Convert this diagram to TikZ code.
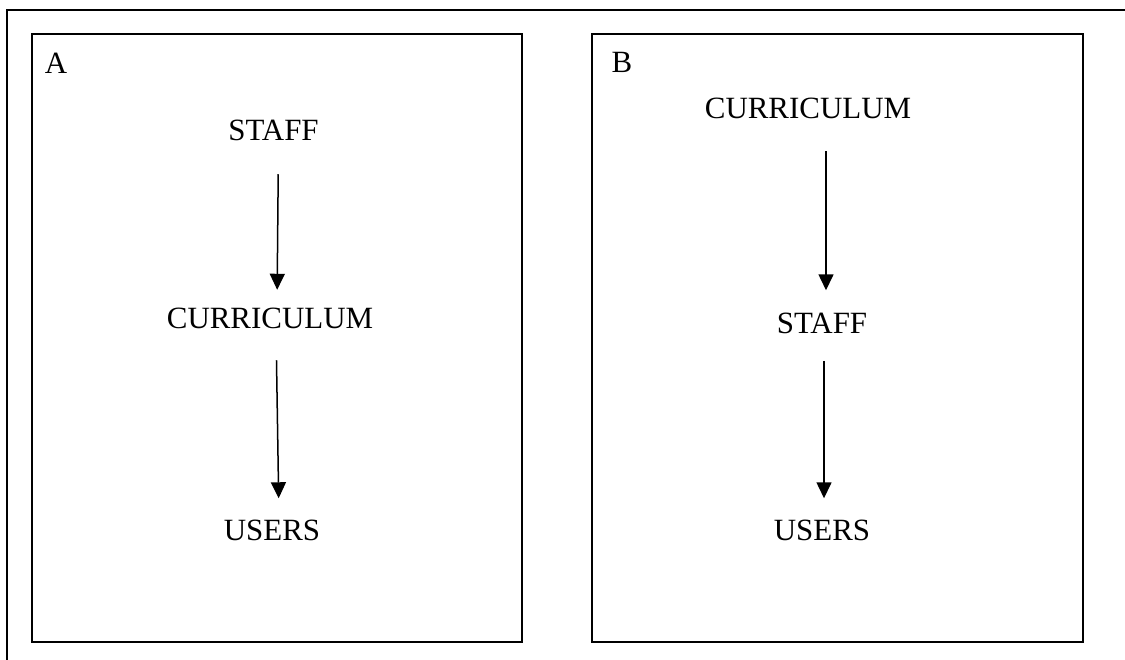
\documentclass[tikz,border=0pt]{standalone}
\usepackage{fontspec}
\setmainfont{Liberation Serif}
\usetikzlibrary{arrows.meta}

\begin{document}
\begin{tikzpicture}[lbl/.style={inner sep=0pt,font=\fontsize{17.6}{20}\selectfont},
        panel/.style={draw,line width=0.04cm},
        arr/.style={line width=0.03cm,-{Triangle[width=0.3cm,length=0.32cm]}}]
        \useasboundingbox (0,0) rectangle (22.5,-13.18);
        \clip (0,0) rectangle (22.5,-13.18);
        \draw[line width=0.04cm] (0.14,-14) |- (23,-0.2);

        \draw[panel] (0.64,-0.68) rectangle (10.44,-12.84);
        \draw[panel] (11.84,-0.68) rectangle (21.66,-12.84);

        \node[lbl] (tagA) at (1.12,-1.26) {A};
        \node[lbl] (staffA) at (5.47,-2.61) {STAFF};
        \node[lbl] (currA) at (5.40,-6.37) {CURRICULUM};
        \node[lbl] (usersA) at (5.44,-10.60) {USERS};

        \node[lbl] (tagB) at (12.44,-1.25) {B};
        \node[lbl] (currB) at (16.16,-2.17) {CURRICULUM};
        \node[lbl] (staffB) at (16.44,-6.46) {STAFF};
        \node[lbl] (usersB) at (16.44,-10.60) {USERS};

        \draw[arr,shorten <=0.66cm,shorten >=0.36cm] ([xshift=0.1cm]staffA.south) -- ([xshift=0.14cm]currA.north);
        \draw[arr,shorten <=0.62cm,shorten >=0.42cm] ([xshift=0.12cm]currA.south) -- ([xshift=0.14cm]usersA.north);
        \draw[arr,shorten <=0.64cm,shorten >=0.44cm] ([xshift=0.36cm]currB.south) -- ([xshift=0.08cm]staffB.north);
        \draw[arr,shorten <=0.54cm,shorten >=0.42cm] ([xshift=0.04cm]staffB.south) -- ([xshift=0.04cm]usersB.north);
    \end{tikzpicture}
\end{document}
